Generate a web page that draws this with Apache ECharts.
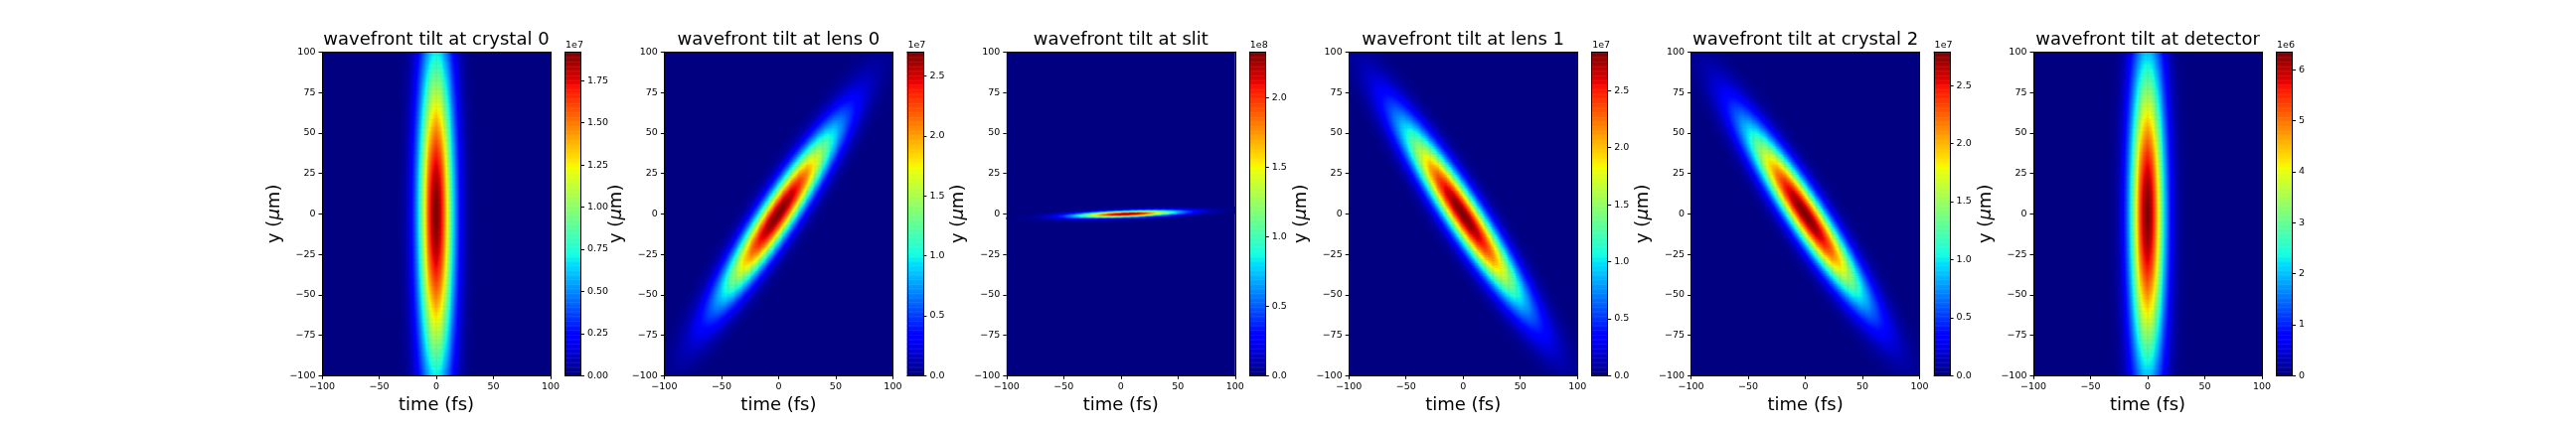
<!DOCTYPE html>
<html>
<head>
<meta charset="utf-8">
<script src="https://cdn.jsdelivr.net/npm/echarts@6/dist/echarts.min.js"></script>
<style>
  html, body { margin: 0; padding: 0; background: #fff; }
  #chart { width: 2592px; height: 432px; }
</style>
</head>
<body>
<div id="chart"></div>
<script>
// beam parameters for each panel
const panelTitles = ['wavefront tilt at crystal 0', 'wavefront tilt at lens 0', 'wavefront tilt at slit',
                     'wavefront tilt at lens 1', 'wavefront tilt at crystal 2', 'wavefront tilt at detector'];
const peakValues = [1.92e7, 2.70e7, 2.33e8, 2.84e7, 2.79e7, 6.35e6];
const widthT = [10.5, 12, 30, 12, 12, 10.3];     // fs
const widthY = [70, 35, 1.3, 37, 36, 66];         // um
const tiltT = [0, 0.9, 0, -0.9, -0.9, 0];         // fs shift per um
const tiltY = [0, 0, 0.025, 0, 0, 0];             // um shift per fs
const centerT = [0, 0, 5, 0, 0, 0];
const stepY = [1, 1, 0.5, 1, 1, 1];
const cbarExp = [7, 7, 8, 7, 7, 6];
const cbarTicks = [
  [0, 0.25, 0.5, 0.75, 1.0, 1.25, 1.5, 1.75],
  [0, 0.5, 1.0, 1.5, 2.0, 2.5],
  [0, 0.5, 1.0, 1.5, 2.0],
  [0, 0.5, 1.0, 1.5, 2.0, 2.5],
  [0, 0.5, 1.0, 1.5, 2.0, 2.5],
  [0, 1, 2, 3, 4, 5, 6]
];
const cbarDecimals = [2, 1, 1, 1, 1, 0];
const timeTicks = [-100, -50, 0, 50, 100];
const yTicks = [-100, -75, -50, -25, 0, 25, 50, 75, 100];

const FONT = 'DejaVu Sans';
const plotLeft0 = 324, panelStep = 344.4, plotTop = 52.3, plotW = 230, plotH = 326;
const cbarGap = 244.5, cbarW = 16;

// matplotlib jet
const jetR = [[0, 0], [0.35, 0], [0.66, 1], [0.89, 1], [1, 0.5]];
const jetG = [[0, 0], [0.125, 0], [0.375, 1], [0.64, 1], [0.91, 0], [1, 0]];
const jetB = [[0, 0.5], [0.11, 1], [0.34, 1], [0.65, 0], [1, 0]];
function seg(pts, v) {
  for (let k = 1; k < pts.length; k++) {
    if (v <= pts[k][0]) {
      const f = (v - pts[k - 1][0]) / (pts[k][0] - pts[k - 1][0]);
      return pts[k - 1][1] + f * (pts[k][1] - pts[k - 1][1]);
    }
  }
  return pts[pts.length - 1][1];
}
const jetColors = [];
for (let k = 0; k <= 200; k++) {
  const v = k / 200;
  const c = [jetR, jetG, jetB].map(p => Math.round(seg(p, v) * 255));
  jetColors.push('rgb(' + c.join(',') + ')');
}

function buildField(i) {
  const tCats = [], yCats = [], data = [];
  for (let t = -100; t <= 100; t++) tCats.push(t);
  const ny = Math.round(200 / stepY[i]);
  for (let j = 0; j <= ny; j++) yCats.push(-100 + j * stepY[i]);
  const st2 = 2 * widthT[i] * widthT[i], sy2 = 2 * widthY[i] * widthY[i];
  for (let a = 0; a < tCats.length; a++) {
    for (let b = 0; b < yCats.length; b++) {
      const t = tCats[a] - centerT[i], y = yCats[b];
      const u = t - tiltT[i] * y;
      const v = y - tiltY[i] * t;
      const val = peakValues[i] * Math.exp(-u * u / st2 - v * v / sy2);
      // cells at ~0 look like the navy background anyway
      if (val > 0.002 * peakValues[i]) data.push([a, b, val]);
    }
  }
  return { tCats, yCats, data };
}

const fmtNum = v => String(v).replace('-', '\u2212');
const lineOn = { show: true, onZero: false, lineStyle: { color: '#000', width: 1 } };
const hidden = { axisTick: { show: false }, axisLabel: { show: false }, splitLine: { show: false } };
const tickStyle = { show: true, length: 3.5, lineStyle: { color: '#000', width: 1 } };
const labelStyle = { margin: 6.5, fontSize: 9.5, fontFamily: FONT, color: '#000' };
const nameStyle = { fontSize: 18, fontFamily: FONT, color: '#000' };

const grids = [], xAxes = [], yAxes = [], series = [], visualMaps = [], titles = [], graphics = [];

panelTitles.forEach((title, i) => {
  const left = plotLeft0 + panelStep * i;
  const cLeft = left + cbarGap;
  const field = buildField(i);

  const g = grids.length;
  grids.push({ left: left, top: plotTop, width: plotW, height: plotH, outerBoundsMode: 'none',
               show: true, backgroundColor: jetColors[0], borderWidth: 0 });
  grids.push({ left: cLeft, top: plotTop, width: cbarW, height: plotH, outerBoundsMode: 'none' });

  // main plot axes
  xAxes.push({ gridIndex: g, type: 'value', position: 'bottom', min: -100, max: 100, z: 5,
    axisLine: lineOn, axisTick: Object.assign({ customValues: timeTicks }, tickStyle),
    axisLabel: Object.assign({ customValues: timeTicks, formatter: fmtNum }, labelStyle),
    splitLine: { show: false },
    name: 'time (fs)', nameLocation: 'middle', nameGap: 19, nameTextStyle: nameStyle });
  const xc = xAxes.length;
  xAxes.push(Object.assign({ gridIndex: g, type: 'category', position: 'top', data: field.tCats, z: 5,
    axisLine: lineOn }, hidden));
  yAxes.push({ gridIndex: g, type: 'value', position: 'left', min: -100, max: 100, z: 5,
    axisLine: lineOn, axisTick: Object.assign({ customValues: yTicks }, tickStyle),
    axisLabel: Object.assign({ customValues: yTicks, formatter: fmtNum }, labelStyle),
    splitLine: { show: false },
    name: '{n|y (}{m|\u03bc}{n|m)}', nameLocation: 'middle', nameGap: 39, nameRotate: 90,
    nameTextStyle: { rich: { n: nameStyle, m: Object.assign({ fontStyle: 'italic' }, nameStyle) } } });
  const yc = yAxes.length;
  yAxes.push(Object.assign({ gridIndex: g, type: 'category', position: 'right', data: field.yCats, z: 5,
    axisLine: lineOn }, hidden));

  // colorbar axes
  const cx = xAxes.length;
  xAxes.push(Object.assign({ gridIndex: g + 1, type: 'category', position: 'bottom', data: ['c'], z: 5,
    axisLine: lineOn }, hidden));
  xAxes.push(Object.assign({ gridIndex: g + 1, type: 'value', position: 'top', min: 0, max: 1, z: 5,
    axisLine: lineOn }, hidden));
  const levels = [];
  for (let k = 0; k < 256; k++) levels.push(k);
  const cy = yAxes.length;
  yAxes.push(Object.assign({ gridIndex: g + 1, type: 'category', position: 'left', data: levels, z: 5,
    axisLine: lineOn }, hidden));
  const scale = Math.pow(10, cbarExp[i]);
  const cbVals = cbarTicks[i].map(v => v * scale);
  yAxes.push({ gridIndex: g + 1, type: 'value', position: 'right', min: 0, max: peakValues[i], z: 5,
    axisLine: lineOn, axisTick: Object.assign({ customValues: cbVals }, tickStyle),
    axisLabel: Object.assign({ customValues: cbVals, formatter: v => (v / scale).toFixed(cbarDecimals[i]) }, labelStyle),
    splitLine: { show: false } });

  const sMain = series.length;
  series.push({ type: 'heatmap', xAxisIndex: xc, yAxisIndex: yc, data: field.data,
    progressive: 0, silent: true, emphasis: { disabled: true } });
  series.push({ type: 'heatmap', xAxisIndex: cx, yAxisIndex: cy,
    data: levels.map(k => [0, k, peakValues[i] * k / 255]),
    progressive: 0, silent: true, emphasis: { disabled: true } });

  visualMaps.push({ type: 'continuous', show: false, min: 0, max: peakValues[i], dimension: 2,
    seriesIndex: [sMain, sMain + 1], inRange: { color: jetColors } });

  titles.push({ text: title, left: left + plotW / 2, top: 31, textAlign: 'center', padding: 0,
    textStyle: { fontSize: 18, fontWeight: 'normal', fontFamily: FONT, color: '#000' } });

  graphics.push({ type: 'text', left: cLeft + 0.5, top: 41,
    style: { text: '1e' + cbarExp[i], fontSize: 9.5, fontFamily: FONT, fill: '#000' } });
});

const chart = echarts.init(document.getElementById('chart'));
chart.setOption({
  backgroundColor: '#fff',
  animation: false,
  title: titles,
  grid: grids,
  xAxis: xAxes,
  yAxis: yAxes,
  visualMap: visualMaps,
  series: series,
  graphic: graphics
});
</script>
</body>
</html>
